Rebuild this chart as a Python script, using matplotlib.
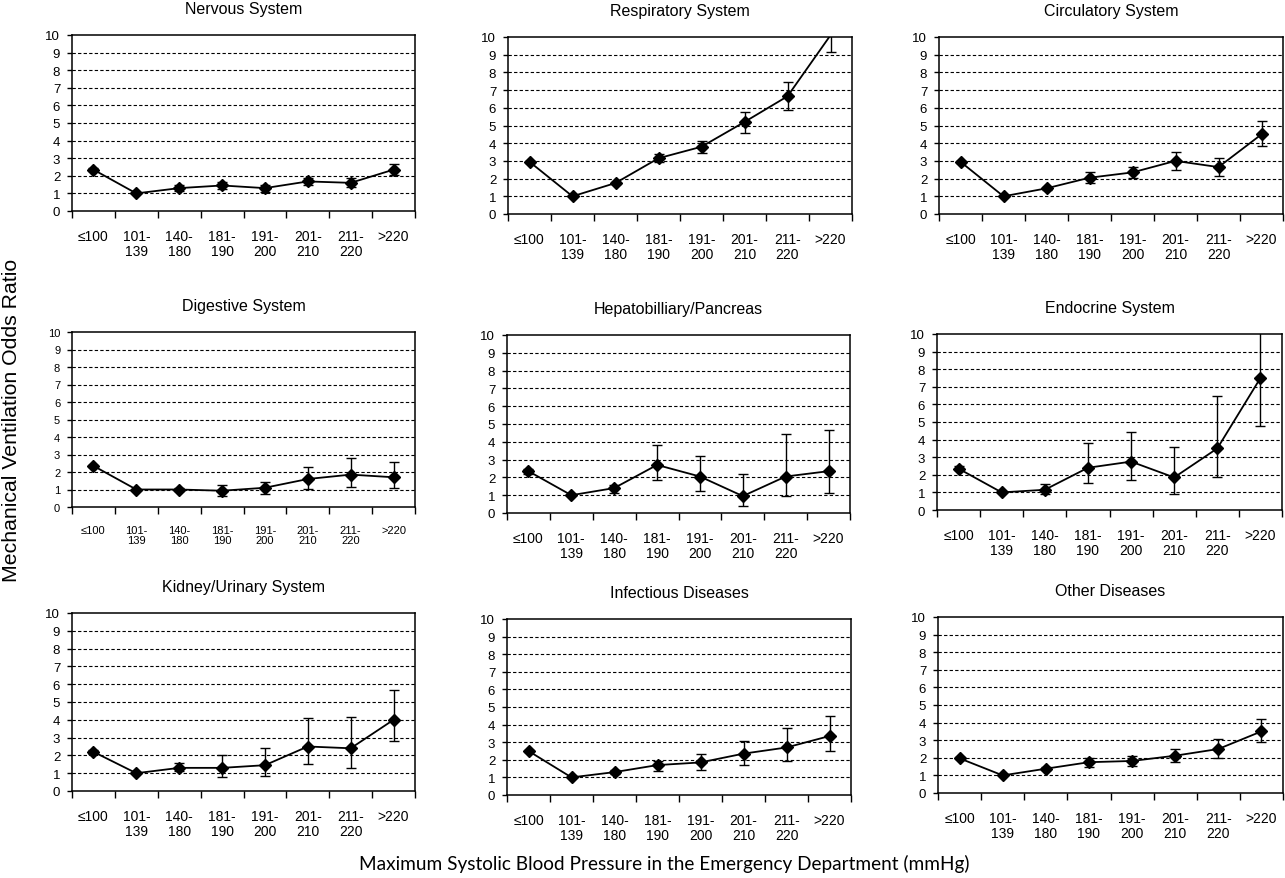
import matplotlib
matplotlib.use('Agg')

import matplotlib.pyplot as plt
from matplotlib.ticker import FixedLocator
import numpy as np

plt.rcParams['font.family'] = ['Liberation Sans', 'DejaVu Sans']

# categorias de pressao sistolica
categorias = ['≤100', '101-\n139', '140-\n180', '181-\n190', '191-\n200', '201-\n210', '211-\n220', '>220']

titulos = ['Nervous System', 'Respiratory System', 'Circulatory System',
           'Digestive System', 'Hepatobilliary/Pancreas', 'Endocrine System',
           'Kidney/Urinary System', 'Infectious Diseases', 'Other Diseases']

# odds ratio e limites inferior/superior
nervoso = [2.35, 1.0, 1.3, 1.45, 1.3, 1.68, 1.6, 2.35]
nervoso_inf = [2.28, 1.0, 1.12, 1.25, 1.1, 1.45, 1.35, 2.05]
nervoso_sup = [2.42, 1.0, 1.48, 1.65, 1.5, 1.9, 1.85, 2.65]

respiratorio = [2.95, 1.0, 1.75, 3.15, 3.8, 5.2, 6.65, 10.1]
respiratorio_inf = [2.9, 1.0, 1.68, 2.95, 3.45, 4.6, 5.85, 9.15]
respiratorio_sup = [3.0, 1.0, 1.82, 3.4, 4.15, 5.75, 7.45, 11.5]

circulatorio = [2.95, 1.0, 1.45, 2.05, 2.35, 3.0, 2.65, 4.5]
circulatorio_inf = [2.88, 1.0, 1.38, 1.75, 2.05, 2.5, 2.15, 3.85]
circulatorio_sup = [3.02, 1.0, 1.52, 2.35, 2.65, 3.5, 3.15, 5.25]

digestivo = [2.35, 1.0, 1.0, 0.93, 1.1, 1.6, 1.85, 1.7]
digestivo_inf = [2.28, 1.0, 0.9, 0.65, 0.75, 1.05, 1.15, 1.1]
digestivo_sup = [2.42, 1.0, 1.1, 1.25, 1.45, 2.3, 2.8, 2.6]

hepato = [2.35, 1.0, 1.4, 2.7, 2.05, 0.95, 2.05, 2.35]
hepato_inf = [2.2, 1.0, 1.1, 1.85, 1.25, 0.4, 0.95, 1.1]
hepato_sup = [2.45, 1.0, 1.6, 3.8, 3.2, 2.2, 4.45, 4.65]

endocrino = [2.35, 1.0, 1.15, 2.4, 2.75, 1.85, 3.5, 7.5]
endocrino_inf = [2.25, 1.0, 0.9, 1.55, 1.7, 0.9, 1.85, 4.8]
endocrino_sup = [2.5, 1.0, 1.5, 3.8, 4.45, 3.6, 6.5, 11.5]

rim = [2.2, 1.0, 1.3, 1.3, 1.45, 2.5, 2.4, 4.0]
rim_inf = [2.1, 1.0, 1.1, 0.8, 0.85, 1.5, 1.3, 2.8]
rim_sup = [2.3, 1.0, 1.55, 2.0, 2.4, 4.1, 4.15, 5.7]

infeccioso = [2.5, 1.0, 1.3, 1.7, 1.85, 2.35, 2.7, 3.35]
infeccioso_inf = [2.45, 1.0, 1.2, 1.35, 1.4, 1.7, 1.95, 2.5]
infeccioso_sup = [2.55, 1.0, 1.4, 1.95, 2.35, 3.05, 3.8, 4.5]

outros = [1.97, 1.0, 1.38, 1.75, 1.82, 2.12, 2.5, 3.5]
outros_inf = [1.92, 1.0, 1.3, 1.5, 1.55, 1.75, 2.0, 2.9]
outros_sup = [2.02, 1.0, 1.46, 2.0, 2.1, 2.5, 3.05, 4.2]

series = [(nervoso, nervoso_inf, nervoso_sup),
          (respiratorio, respiratorio_inf, respiratorio_sup),
          (circulatorio, circulatorio_inf, circulatorio_sup),
          (digestivo, digestivo_inf, digestivo_sup),
          (hepato, hepato_inf, hepato_sup),
          (endocrino, endocrino_inf, endocrino_sup),
          (rim, rim_inf, rim_sup),
          (infeccioso, infeccioso_inf, infeccioso_sup),
          (outros, outros_inf, outros_sup)]

# caixas dos paineis em pixels: esquerda, topo, direita, base
caixas = [(72, 36, 415, 212), (508, 38, 852, 215), (939, 38, 1283, 215),
          (72, 333, 415, 508), (507, 336, 850, 514), (937, 335, 1282, 511),
          (72, 614, 415, 792), (507, 620, 851, 796), (938, 618, 1283, 794)]

W, H = 1285, 879
fig = plt.figure(figsize=(W / 100, H / 100), dpi=100)

x = np.arange(len(categorias))
for i, (titulo, (v, lo, hi), (l, t, r, b)) in enumerate(zip(titulos, series, caixas)):
    ax = fig.add_axes([l / W, 1 - b / H, (r - l) / W, (b - t) / H])
    v = np.array(v)
    err = [v - np.array(lo), np.array(hi) - v]
    ax.errorbar(x, v, yerr=err, fmt='none', ecolor='black', elinewidth=1,
                capsize=3.5, capthick=1)
    visiveis = [k for k in range(len(v)) if v[k] <= 10]
    ax.plot(x, v, color='black', lw=1.3, marker='D', markersize=6.5,
            markevery=visiveis, markerfacecolor='black')
    ax.set_xlim(-0.5, len(categorias) - 0.5)
    ax.set_ylim(0, 10)
    ax.set_yticks(range(0, 11))
    ax.set_xticks(x)
    fx = 8 if i == 3 else 10
    fy = 8 if i == 3 else 9.5
    ax.set_xticklabels(categorias, fontsize=fx, linespacing=1.05)
    ax.tick_params(axis='x', which='major', length=0, pad=13)
    ax.xaxis.set_minor_locator(FixedLocator(np.arange(-0.5, len(categorias), 1)))
    ax.tick_params(axis='x', which='minor', length=5, width=1, direction='out')
    ax.tick_params(axis='y', length=3.5, width=1, pad=5, labelsize=fy)
    for y in range(1, 10):
        ax.axhline(y, color='black', lw=0.8, ls=(0, (3, 2)), zorder=0)
    for s in ax.spines.values():
        s.set_linewidth(1.1)
    ax.set_title(titulo, fontsize=11.5, pad=16)

fig.text(12 / W, 1 - 420 / H, 'Mechanical Ventilation Odds Ratio', rotation=90,
         ha='center', va='center', fontsize=15.3)
fig.text(664 / W, 1 - 864 / H, 'Maximum Systolic Blood Pressure in the Emergency Department (mmHg)',
         ha='center', va='center', fontsize=13.7, family=['Lato', 'DejaVu Sans'])

fig.savefig('out.png', dpi=100)
